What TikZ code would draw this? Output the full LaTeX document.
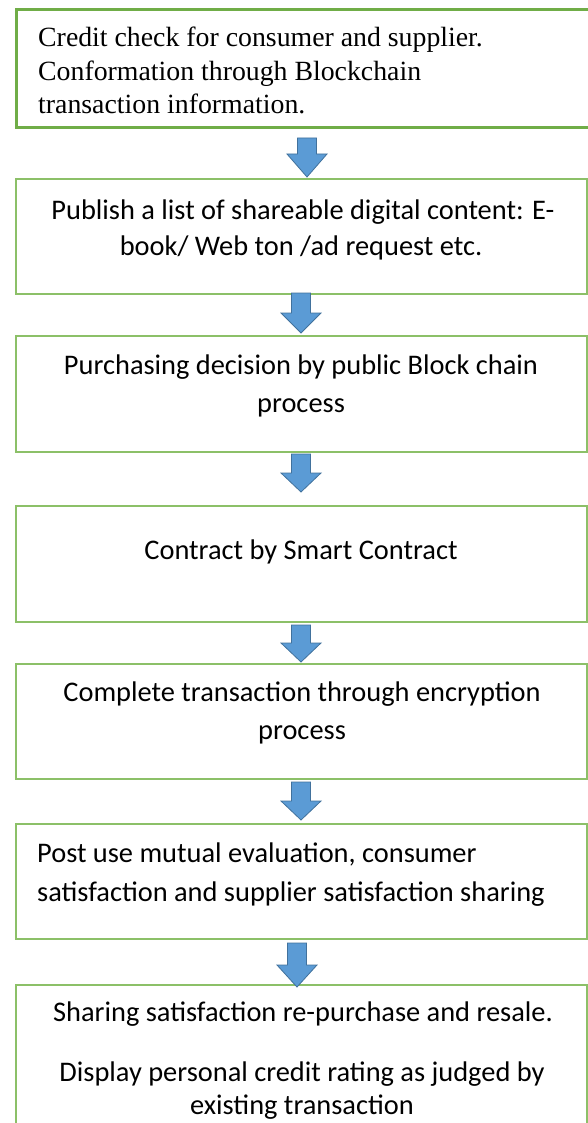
\documentclass[tikz,border=0pt]{standalone}
\usepackage{fontspec}
\setmainfont{Liberation Serif}
\newfontfamily\calfont{Carlito}
\definecolor{boxgreen}{HTML}{70AD47}
\definecolor{boxgreenlt}{HTML}{8CC068}
\definecolor{arrowfill}{HTML}{5B9BD5}
\definecolor{arrowline}{HTML}{41719C}

% block arrow pointing down: #1 centre x, #2 top y, #3 start of head, #4 tip y
\newcommand\blockarr[4]{%
  \filldraw[fill=arrowfill,draw=arrowline,line width=0.8pt,line join=miter]
    (#1-9.5,#2) -- (#1+9.5,#2) -- (#1+9.5,#3) -- (#1+20,#3) -- (#1,#4)
    -- (#1-20,#3) -- (#1-9.5,#3) -- cycle;}

\tikzset{
  stepbox/.style={draw=boxgreenlt,line width=2.2pt,rectangle,inner sep=0pt,
    anchor=north west,minimum width=571pt},
  firstbox/.style={draw=boxgreen,line width=3pt,rectangle,inner sep=0pt,
    anchor=north west,minimum width=577pt},
  serifline/.style={anchor=base west,inner sep=0pt,font=\fontsize{27.8}{33}\selectfont},
  calline/.style={anchor=base,inner sep=0pt,font=\calfont\fontsize{28.4}{37}\selectfont},
  calleft/.style={anchor=base west,inner sep=0pt,font=\calfont\fontsize{28.4}{37}\selectfont},
}

\begin{document}
\begin{tikzpicture}[x=1pt,y=-1pt]
\useasboundingbox (0,0) rectangle (588,1123);

% boxes
\node[firstbox,minimum height=118pt] (b1) at (15,8) {};
\node[stepbox,minimum height=115pt] (b2) at (15,178) {};
\node[stepbox,minimum height=116pt] (b3) at (15,335) {};
\node[stepbox,minimum height=116pt] (b4) at (15,505) {};
\node[stepbox,minimum height=115pt] (b5) at (15,663) {};
\node[stepbox,minimum height=115pt] (b6) at (15,823) {};
\node[stepbox,minimum height=151pt] (b7) at (15,984) {};

% step 1
\node[serifline] (t1a) at (38,47) {Credit check for consumer and supplier.};
\node[serifline] (t1b) at (38,80.5) {Conformation through Blockchain};
\node[serifline] (t1c) at (38,114) {transaction information.};

% step 2
\node[calline] (t2a) at (303,219) {Publish a list of shareable digital content: E-};
\node[calline] (t2b) at (301,255) {book/ Web ton /ad request etc.};

% step 3
\node[calline] (t3a) at (301,374) {Purchasing decision by public Block chain};
\node[calline] (t3b) at (301,412) {process};

% step 4
\node[calline] (t4a) at (301,559) {Contract by Smart Contract};

% step 5
\node[calline] (t5a) at (302,701) {Complete transaction through encryption};
\node[calline] (t5b) at (302,739) {process};

% step 6
\node[calleft] (t6a) at (37,862) {Post use mutual evaluation, consumer};
\node[calleft] (t6b) at (37,901) {satisfaction and supplier satisfaction sharing};

% step 7
\node[calline] (t7a) at (303,1021) {Sharing satisfaction re-purchase and resale.};
\node[calline] (t7b) at (302,1081) {Display personal credit rating as judged by};
\node[calline] (t7c) at (302,1114) {existing transaction};

% arrows between the steps
\blockarr{307}{138}{154}{177}
\blockarr{301}{293}{313}{333}
\blockarr{301}{454}{473}{492}
\blockarr{301}{625}{643}{662}
\blockarr{301}{782}{801}{820}
\blockarr{297}{943}{965}{987}
\end{tikzpicture}
\end{document}
